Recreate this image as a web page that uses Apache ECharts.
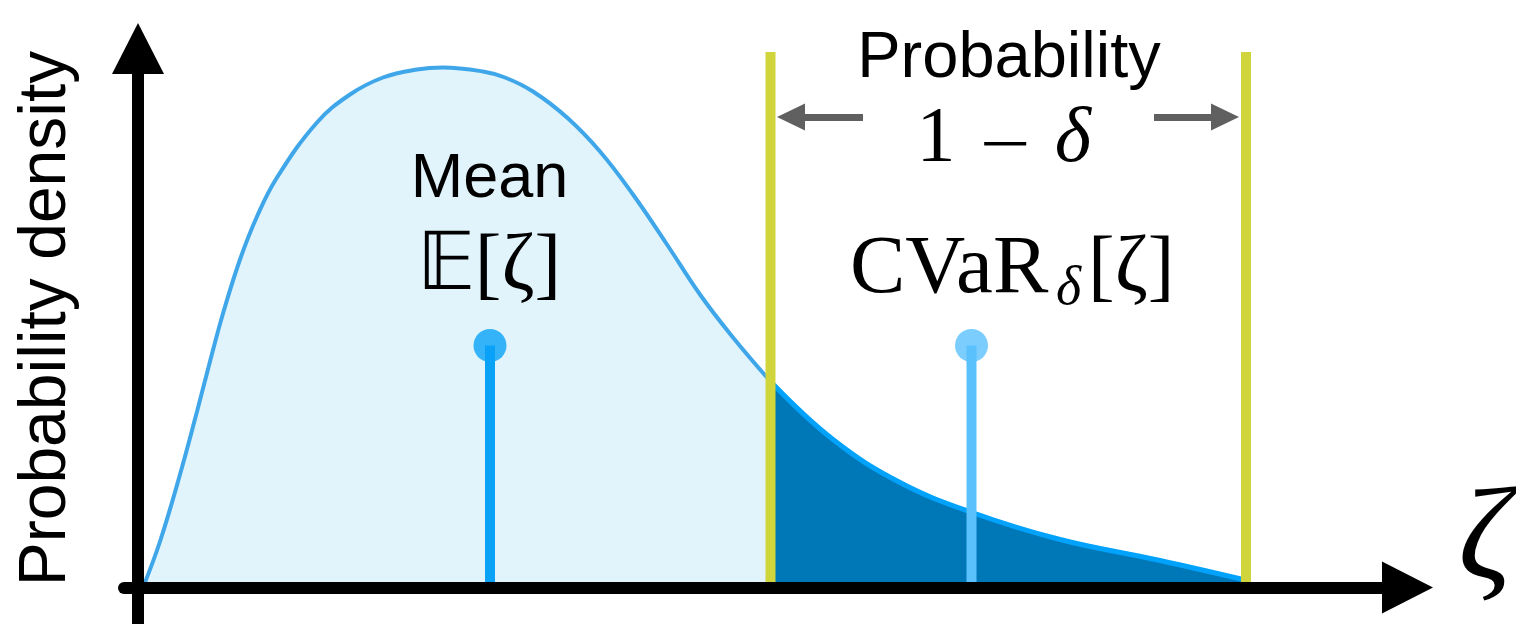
<!DOCTYPE html>
<html>
<head>
<meta charset="utf-8">
<script src="https://cdn.jsdelivr.net/npm/echarts@6/dist/echarts.min.js"></script>
<style>
html,body{margin:0;padding:0;background:#fff;}
#chart{width:1516px;height:624px;}
</style>
</head>
<body>
<div id="chart"></div>
<script>
// ---- data ----
const zeta    = [0.05, 0.22, 0.42, 0.59, 0.72, 0.85, 1.02, 1.19, 1.39, 1.79, 2.12, 2.45, 2.79, 3.05, 3.45, 3.67, 3.95, 4.29, 4.62, 4.95, 5.29, 5.62, 5.95, 6.325, 6.95, 7.62, 8.34, 9.22, 10.22, 11.05];
const density = [0.000, 0.046, 0.113, 0.176, 0.226, 0.274, 0.328, 0.371, 0.410, 0.465, 0.493, 0.510, 0.518, 0.520, 0.516, 0.510, 0.496, 0.470, 0.436, 0.393, 0.343, 0.293, 0.250, 0.206, 0.148, 0.105, 0.075, 0.048, 0.027, 0.008];
const varZeta = 6.325;      // left bound of the tail (VaR)
const tailEnd = 11.08;      // right bound
const bracketTop = 0.5355;  // height of the bound lines
const meanZeta = 3.52;
const cvarZeta = 8.335;
const stemHeight = 0.242;
const arrowLevel = 0.4705;
const leftArrow = [7.25, 6.53];
const rightArrow = [10.16, 10.87];
const xRange = [-0.14, 12.695];
const yRange = [-0.0365, 0.539];

const pts = zeta.map((z, i) => [z, density[i]]);
const splitIdx = zeta.indexOf(varZeta);
const body = pts.slice(0, splitIdx + 1);
const tail = pts.slice(splitIdx);

const chart = echarts.init(document.getElementById('chart'), null, {renderer: 'canvas'});

const SANS = '"Liberation Sans", Arial, Helvetica, sans-serif';
const SERIF = '"Liberation Serif", "Times New Roman", serif';

function vline(x, top, color, width, z, extra) {
  return Object.assign({
    type: 'line', data: [[x, 0], [x, top]], symbol: 'none', silent: true, z: z,
    lineStyle: {color: color, width: width, cap: 'butt'}
  }, extra || {});
}

const option = {
  animation: false,
  backgroundColor: '#ffffff',
  grid: {left: 124, right: 108.5, top: 48.5, bottom: 0, containLabel: false, outerBoundsMode: 'none'},
  xAxis: {
    type: 'value', min: xRange[0], max: xRange[1], z: 10,
    axisLine: {show: true, onZero: true, symbol: ['none', 'triangle'], symbolSize: [52, 51],
      lineStyle: {color: '#000', width: 12}},
    axisTick: {show: false}, axisLabel: {show: false}, splitLine: {show: false}
  },
  yAxis: {
    type: 'value', min: yRange[0], max: yRange[1], z: 10,
    axisLine: {show: true, onZero: true, symbol: ['none', 'triangle'], symbolSize: [52, 51],
      lineStyle: {color: '#000', width: 12}},
    axisTick: {show: false}, axisLabel: {show: false}, splitLine: {show: false}
  },
  series: [
    {type: 'line', data: body, smooth: 0.4, symbol: 'none', silent: true, z: 2,
      lineStyle: {color: '#3fa7e9', width: 4},
      areaStyle: {color: '#e1f4fb', opacity: 1}},
    {type: 'line', data: tail, smooth: 0.4, symbol: 'none', silent: true, z: 2,
      lineStyle: {color: '#00a2fb', width: 5},
      areaStyle: {color: '#0077b6', opacity: 1}},
    vline(meanZeta, stemHeight, '#0aa2f7', 10, 4),
    {type: 'scatter', data: [[meanZeta, stemHeight]], symbol: 'circle', symbolSize: 33, silent: true, z: 5,
      itemStyle: {color: '#0aa2f7'}},
    vline(cvarZeta, stemHeight, '#5ac1fd', 10, 4),
    {type: 'scatter', data: [[cvarZeta, stemHeight]], symbol: 'circle', symbolSize: 33, silent: true, z: 5,
      itemStyle: {color: '#5ac1fd'}},
    vline(varZeta, bracketTop, '#d1d53c', 10, 6),
    vline(tailEnd, bracketTop, '#d1d53c', 10, 6, {
      markLine: {
        silent: true, symbol: ['none', 'triangle'], symbolSize: [27, 28], animation: false,
        label: {show: false},
        lineStyle: {color: '#606060', width: 7, type: 'solid'},
        emphasis: {disabled: true},
        data: [
          [{coord: [leftArrow[0], arrowLevel]}, {coord: [leftArrow[1], arrowLevel]}],
          [{coord: [rightArrow[0], arrowLevel]}, {coord: [rightArrow[1], arrowLevel]}]
        ]
      }
    })
  ],
  graphic: [
    {type: 'text', x: 47, y: 318.5, rotation: Math.PI / 2, z: 20,
      style: {text: 'Probability density', font: '66px ' + SANS, fill: '#000', align: 'center', verticalAlign: 'middle'}},
    {type: 'text', x: 1009, y: 59.5, z: 20,
      style: {text: 'Probability', font: '65px ' + SANS, fill: '#000', align: 'center', verticalAlign: 'middle'}},
    {type: 'text', x: 489.5, y: 180, z: 20,
      style: {text: 'Mean', font: '63px ' + SANS, fill: '#000', align: 'center', verticalAlign: 'middle'}},
    {type: 'text', x: 936, y: 140, z: 20,
      style: {text: '1', font: '78px ' + SERIF, fill: '#000', align: 'center', verticalAlign: 'middle'}},
    {type: 'text', x: 1005, y: 146, scaleX: 1.6, z: 20,
      style: {text: '\u2212', font: '42px "DejaVu Serif", serif', fill: '#000', align: 'center', verticalAlign: 'middle'}},
    {type: 'text', x: 1073, y: 140, z: 20,
      style: {text: '\u03b4', font: 'italic 78px ' + SERIF, fill: '#000', align: 'center', verticalAlign: 'middle'}},
    {type: 'text', x: 489, y: 268, z: 20,
      style: {text: '\ud835\udd3c[\u03b6]', font: '80px ' + SERIF, fill: '#000', align: 'center', verticalAlign: 'middle'}},
    {type: 'text', x: 850, y: 270, z: 20,
      style: {text: 'CVaR', font: '83px ' + SERIF, fill: '#000', align: 'left', verticalAlign: 'middle'}},
    {type: 'text', x: 1056, y: 290, z: 20,
      style: {text: '\u03b4', font: 'italic 54px ' + SERIF, fill: '#000', align: 'left', verticalAlign: 'middle'}},
    {type: 'text', x: 1088, y: 270, z: 20,
      style: {text: '[\u03b6]', font: '80px ' + SERIF, fill: '#000', align: 'left', verticalAlign: 'middle'}},
    {type: 'text', x: 1485, y: 543.5, z: 20,
      style: {text: '\u03b6', font: 'italic 132px ' + SERIF, fill: '#000', align: 'center', verticalAlign: 'middle'}}
  ]
};
chart.setOption(option);
</script>
</body>
</html>
